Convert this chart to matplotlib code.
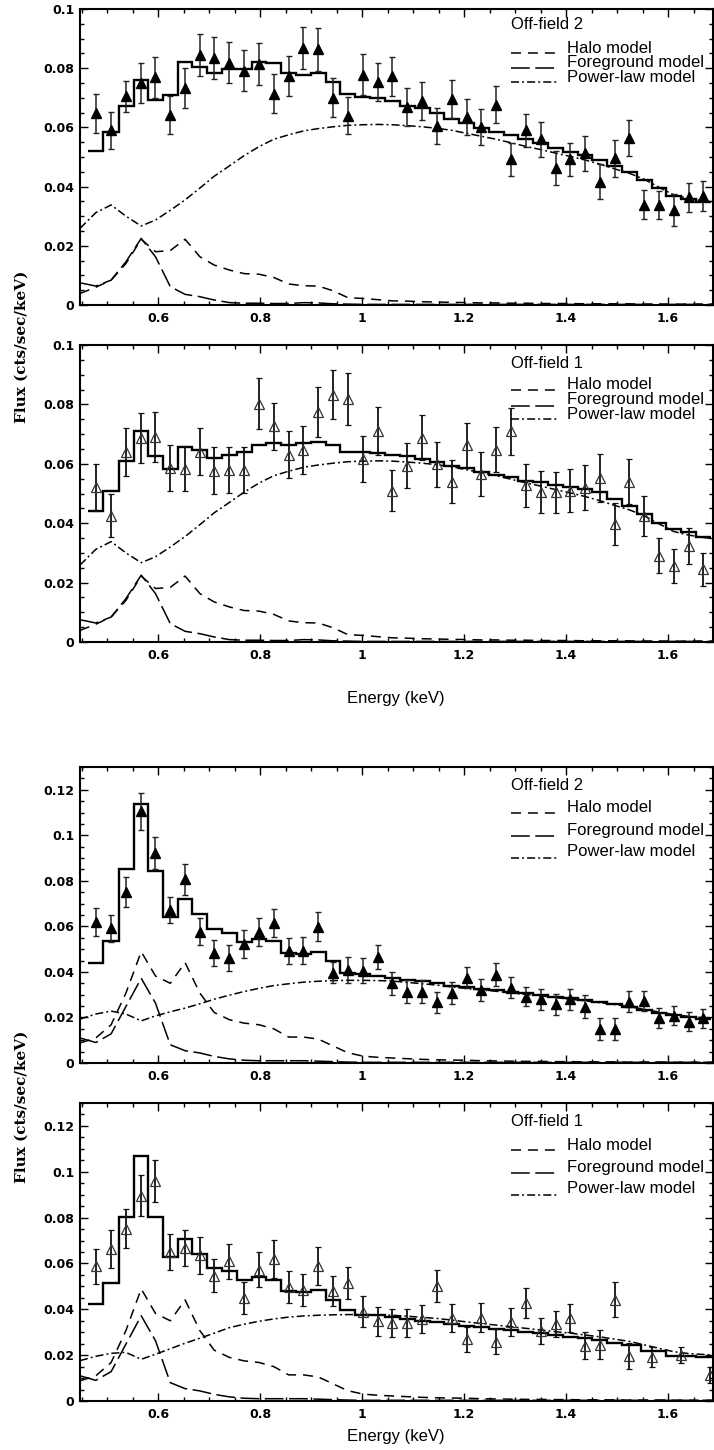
import matplotlib
matplotlib.use("Agg")
import matplotlib.pyplot as plt
import numpy as np

plt.rcParams['lines.scale_dashes'] = False
plt.rcParams['font.family'] = ['Liberation Sans', 'DejaVu Sans']

# ---------------- data ----------------
energy = [0.478, 0.508, 0.537, 0.567, 0.595, 0.624, 0.653, 0.682, 0.710, 0.740,
          0.769, 0.798, 0.827, 0.856, 0.885, 0.914, 0.943, 0.972, 1.002, 1.031,
          1.059, 1.088, 1.118, 1.147, 1.176, 1.205, 1.234, 1.263, 1.292, 1.321,
          1.350, 1.380, 1.408, 1.437, 1.466, 1.495, 1.524, 1.553, 1.582, 1.611,
          1.640, 1.669]
energy_p4 = [0.478, 0.508, 0.537, 0.567, 0.595, 0.624, 0.653, 0.682, 0.710, 0.740,
             0.769, 0.798, 0.827, 0.856, 0.885, 0.914, 0.943, 0.972, 1.002, 1.031,
             1.059, 1.088, 1.118, 1.147, 1.176, 1.205, 1.234, 1.263, 1.292, 1.321,
             1.350, 1.380, 1.408, 1.437, 1.466, 1.495, 1.524, 1.568, 1.625, 1.683]

# panel 1 (top, Off-field 2, soft band)
flux1 = [0.0647, 0.0590, 0.0705, 0.0750, 0.0770, 0.0642, 0.0733, 0.0843, 0.0833, 0.0818,
         0.0792, 0.0814, 0.0713, 0.0773, 0.0868, 0.0864, 0.0700, 0.0640, 0.0778, 0.0753,
         0.0773, 0.0669, 0.0689, 0.0604, 0.0696, 0.0634, 0.0602, 0.0677, 0.0492, 0.0590,
         0.0560, 0.0463, 0.0492, 0.0512, 0.0417, 0.0495, 0.0565, 0.0338, 0.0338, 0.0322,
         0.0364, 0.0368]
err1 = [0.0065, 0.0063, 0.0052, 0.0068, 0.0069, 0.0065, 0.0067, 0.0071, 0.0071, 0.0069,
        0.0069, 0.0070, 0.0066, 0.0068, 0.0071, 0.0072, 0.0066, 0.0063, 0.0070, 0.0065,
        0.0066, 0.0063, 0.0063, 0.0060, 0.0064, 0.0061, 0.0060, 0.0062, 0.0055, 0.0056,
        0.0059, 0.0057, 0.0056, 0.0060, 0.0059, 0.0061, 0.0061, 0.0049, 0.0048, 0.0054,
        0.0049, 0.0050]
total1 = [0.0521, 0.0586, 0.0672, 0.0760, 0.0693, 0.0710, 0.0820, 0.0803, 0.0783, 0.0796,
          0.0796, 0.0820, 0.0816, 0.0783, 0.0777, 0.0783, 0.0752, 0.0713, 0.0704, 0.0698,
          0.0689, 0.0672, 0.0664, 0.0647, 0.0630, 0.0614, 0.0597, 0.0586, 0.0574, 0.0560,
          0.0546, 0.0530, 0.0518, 0.0507, 0.0490, 0.0470, 0.0450, 0.0422, 0.0394, 0.0368,
          0.0357, 0.0349]

# panel 2 (Off-field 1)
flux2 = [0.0521, 0.0425, 0.0640, 0.0687, 0.0690, 0.0585, 0.0583, 0.0640, 0.0577, 0.0580,
         0.0580, 0.0803, 0.0727, 0.0631, 0.0647, 0.0775, 0.0833, 0.0817, 0.0617, 0.0710,
         0.0510, 0.0594, 0.0688, 0.0598, 0.0540, 0.0662, 0.0566, 0.0648, 0.0710, 0.0527,
         0.0506, 0.0504, 0.0510, 0.0520, 0.0553, 0.0397, 0.0540, 0.0425, 0.0290, 0.0256,
         0.0324, 0.0245]
err2 = [0.0079, 0.0072, 0.0082, 0.0085, 0.0083, 0.0078, 0.0076, 0.0079, 0.0078, 0.0077,
        0.0077, 0.0086, 0.0079, 0.0078, 0.0080, 0.0085, 0.0083, 0.0088, 0.0078, 0.0081,
        0.0070, 0.0076, 0.0076, 0.0075, 0.0072, 0.0075, 0.0073, 0.0077, 0.0079, 0.0072,
        0.0070, 0.0070, 0.0072, 0.0075, 0.0081, 0.0072, 0.0077, 0.0068, 0.0059, 0.0056,
        0.0060, 0.0056]
total2 = [0.0442, 0.0507, 0.0609, 0.0709, 0.0626, 0.0583, 0.0656, 0.0647, 0.0619, 0.0630,
          0.0641, 0.0662, 0.0670, 0.0664, 0.0671, 0.0675, 0.0662, 0.0641, 0.0639, 0.0636,
          0.0631, 0.0625, 0.0617, 0.0605, 0.0594, 0.0585, 0.0574, 0.0563, 0.0555, 0.0543,
          0.0538, 0.0529, 0.0521, 0.0515, 0.0504, 0.0481, 0.0459, 0.0431, 0.0402, 0.0382,
          0.0369, 0.0355]

# panel 3 (Off-field 2)
flux3 = [0.0618, 0.0591, 0.0749, 0.1105, 0.0923, 0.0672, 0.0807, 0.0577, 0.0482, 0.0460,
         0.0523, 0.0577, 0.0616, 0.0493, 0.0493, 0.0599, 0.0397, 0.0409, 0.0406, 0.0467,
         0.0350, 0.0314, 0.0314, 0.0266, 0.0307, 0.0375, 0.0321, 0.0387, 0.0331, 0.0292,
         0.0280, 0.0258, 0.0280, 0.0248, 0.0149, 0.0149, 0.0270, 0.0273, 0.0197, 0.0207,
         0.0182, 0.0197]
err3 = [0.0061, 0.0058, 0.0066, 0.0082, 0.0069, 0.0058, 0.0069, 0.0058, 0.0058, 0.0058,
        0.0062, 0.0061, 0.0062, 0.0057, 0.0060, 0.0062, 0.0047, 0.0056, 0.0055, 0.0053,
        0.0051, 0.0050, 0.0051, 0.0047, 0.0050, 0.0046, 0.0049, 0.0051, 0.0047, 0.0042,
        0.0047, 0.0045, 0.0047, 0.0050, 0.0049, 0.0049, 0.0047, 0.0044, 0.0043, 0.0042,
        0.0042, 0.0042]
total3 = [0.0438, 0.0537, 0.0850, 0.1136, 0.0844, 0.0642, 0.0720, 0.0653, 0.0587, 0.0569,
          0.0533, 0.0545, 0.0536, 0.0485, 0.0479, 0.0489, 0.0448, 0.0395, 0.0390, 0.0382,
          0.0372, 0.0365, 0.0358, 0.0350, 0.0340, 0.0333, 0.0326, 0.0321, 0.0314, 0.0307,
          0.0299, 0.0292, 0.0285, 0.0277, 0.0270, 0.0260, 0.0248, 0.0234, 0.0219, 0.0209,
          0.0201, 0.0194]

# panel 4 (Off-field 1)
flux4 = [0.0587, 0.0663, 0.0752, 0.0896, 0.0959, 0.0650, 0.0668, 0.0636, 0.0547, 0.0609,
         0.0449, 0.0573, 0.0620, 0.0496, 0.0483, 0.0590, 0.0481, 0.0515, 0.0390, 0.0347,
         0.0340, 0.0340, 0.0357, 0.0503, 0.0362, 0.0270, 0.0364, 0.0259, 0.0344, 0.0427,
         0.0306, 0.0337, 0.0362, 0.0241, 0.0245, 0.0442, 0.0197, 0.0191, 0.0201, 0.0114]
err4 = [0.0077, 0.0082, 0.0086, 0.0089, 0.0092, 0.0079, 0.0080, 0.0080, 0.0073, 0.0077,
        0.0068, 0.0076, 0.0082, 0.0069, 0.0069, 0.0082, 0.0066, 0.0068, 0.0066, 0.0062,
        0.0060, 0.0062, 0.0062, 0.0069, 0.0063, 0.0055, 0.0062, 0.0053, 0.0060, 0.0064,
        0.0058, 0.0057, 0.0060, 0.0058, 0.0063, 0.0075, 0.0058, 0.0044, 0.0036, 0.0034]
total4 = [0.0423, 0.0515, 0.0803, 0.1068, 0.0803, 0.0627, 0.0708, 0.0641, 0.0580, 0.0566,
          0.0529, 0.0541, 0.0529, 0.0481, 0.0474, 0.0483, 0.0439, 0.0398, 0.0376, 0.0373,
          0.0366, 0.0357, 0.0351, 0.0343, 0.0335, 0.0328, 0.0321, 0.0315, 0.0310, 0.0303,
          0.0296, 0.0286, 0.0281, 0.0274, 0.0267, 0.0255, 0.0245, 0.0216, 0.0198, 0.0191]

# model components
model_energy = [0.447, 0.478, 0.508, 0.537, 0.567, 0.595, 0.624, 0.653, 0.682, 0.710,
                0.740, 0.769, 0.798, 0.827, 0.856, 0.885, 0.914, 0.943, 0.972, 1.002,
                1.031, 1.059, 1.088, 1.118, 1.147, 1.176, 1.205, 1.234, 1.263, 1.292,
                1.321, 1.350, 1.380, 1.408, 1.437, 1.466, 1.495, 1.524, 1.553, 1.582,
                1.611, 1.640, 1.669, 1.688]
powerlaw12 = [0.0259, 0.0312, 0.0338, 0.0300, 0.0267, 0.0287, 0.0320, 0.0355, 0.0395, 0.0435,
              0.0470, 0.0505, 0.0535, 0.0560, 0.0575, 0.0588, 0.0596, 0.0602, 0.0607, 0.0609,
              0.0610, 0.0609, 0.0606, 0.0602, 0.0597, 0.0590, 0.0580, 0.0570, 0.0560, 0.0548,
              0.0536, 0.0525, 0.0513, 0.0502, 0.0490, 0.0476, 0.0460, 0.0445, 0.0425, 0.0398,
              0.0372, 0.0360, 0.0352, 0.0348]
halo12 = [0.0039, 0.0060, 0.0084, 0.0140, 0.0222, 0.0180, 0.0184, 0.0222, 0.0163, 0.0135,
          0.0118, 0.0106, 0.0104, 0.0093, 0.0071, 0.0065, 0.0064, 0.0048, 0.0025, 0.0022,
          0.0018, 0.0014, 0.0013, 0.0011, 0.0010, 0.0009, 0.0008, 0.0007, 0.0007, 0.0006,
          0.0006, 0.0005, 0.0005, 0.0005, 0.0004, 0.0004, 0.0004, 0.0004, 0.0003, 0.0003,
          0.0003, 0.0003, 0.0003, 0.0003]
fore12 = [0.0075, 0.0064, 0.0084, 0.0146, 0.0225, 0.0163, 0.0062, 0.0036, 0.0028, 0.0017,
          0.0008, 0.0006, 0.0006, 0.0005, 0.0005, 0.0008, 0.0007, 0.0004, 0.0003, 0.0002,
          0.0002, 0.0002, 0.0002, 0.0002, 0.0002, 0.0002, 0.0002, 0.0002, 0.0002, 0.0002,
          0.0002, 0.0002, 0.0002, 0.0002, 0.0002, 0.0002, 0.0002, 0.0002, 0.0002, 0.0002,
          0.0002, 0.0002, 0.0002, 0.0002]
powerlaw3 = [0.0193, 0.0215, 0.0228, 0.0215, 0.0185, 0.0207, 0.0225, 0.0241, 0.0260, 0.0280,
             0.0298, 0.0314, 0.0328, 0.0340, 0.0348, 0.0355, 0.0359, 0.0362, 0.0363, 0.0363,
             0.0362, 0.0360, 0.0354, 0.0348, 0.0342, 0.0334, 0.0327, 0.0321, 0.0315, 0.0308,
             0.0301, 0.0295, 0.0287, 0.0280, 0.0273, 0.0265, 0.0257, 0.0247, 0.0236, 0.0224,
             0.0213, 0.0205, 0.0199, 0.0196]
powerlaw4 = [0.0176, 0.0195, 0.0208, 0.0212, 0.0182, 0.0204, 0.0228, 0.0252, 0.0274, 0.0296,
             0.0320, 0.0335, 0.0348, 0.0358, 0.0366, 0.0371, 0.0374, 0.0376, 0.0377, 0.0377,
             0.0376, 0.0374, 0.0370, 0.0365, 0.0360, 0.0353, 0.0345, 0.0338, 0.0331, 0.0324,
             0.0317, 0.0310, 0.0302, 0.0296, 0.0288, 0.0280, 0.0270, 0.0260, 0.0245, 0.0230,
             0.0215, 0.0207, 0.0203, 0.0201]
halo34 = [0.0088, 0.0110, 0.0168, 0.0307, 0.0489, 0.0382, 0.0350, 0.0441, 0.0307, 0.0222,
          0.0190, 0.0175, 0.0168, 0.0150, 0.0114, 0.0114, 0.0105, 0.0075, 0.0045, 0.0030,
          0.0025, 0.0022, 0.0019, 0.0016, 0.0014, 0.0013, 0.0012, 0.0010, 0.0009, 0.0008,
          0.0007, 0.0007, 0.0006, 0.0006, 0.0005, 0.0005, 0.0005, 0.0004, 0.0004, 0.0004,
          0.0004, 0.0003, 0.0003, 0.0003]
fore34 = [0.0110, 0.0090, 0.0128, 0.0248, 0.0372, 0.0263, 0.0080, 0.0054, 0.0044, 0.0029,
          0.0018, 0.0012, 0.0010, 0.0010, 0.0010, 0.0010, 0.0008, 0.0006, 0.0004, 0.0003,
          0.0003, 0.0003, 0.0003, 0.0003, 0.0003, 0.0003, 0.0003, 0.0003, 0.0003, 0.0003,
          0.0003, 0.0003, 0.0003, 0.0003, 0.0003, 0.0003, 0.0003, 0.0003, 0.0003, 0.0003,
          0.0003, 0.0003, 0.0003, 0.0003]

titles = ["Off-field 2", "Off-field 1", "Off-field 2", "Off-field 1"]
legend_labels = ["Halo model", "Foreground model", "Power-law model"]
xtick_values = [0.6, 0.8, 1.0, 1.2, 1.4, 1.6]
xtick_labels = ["0.6", "0.8", "1", "1.2", "1.4", "1.6"]
ytick_values_a = [0, 0.02, 0.04, 0.06, 0.08, 0.1]
ytick_labels_a = ["0", "0.02", "0.04", "0.06", "0.08", "0.1"]
ytick_values_b = [0, 0.02, 0.04, 0.06, 0.08, 0.1, 0.12]
ytick_labels_b = ["0", "0.02", "0.04", "0.06", "0.08", "0.1", "0.12"]

# ---------------- styles ----------------
HALO_LS = (0, (7.2, 5.0))
FORE_LS = (0, (13.5, 4.0))
PL_LS = (0, (5.8, 2.2, 1.4, 2.2))

W, H = 714, 1450
fig = plt.figure(figsize=(W / 100, H / 100), dpi=100)

def px_axes(left, top, right, bottom):
    return fig.add_axes([left / W, 1 - bottom / H, (right - left) / W, (bottom - top) / H])

panels = [
    dict(rect=(80, 9, 713, 305), e=energy, f=flux1, err=err1, tot=total1,
         pl=powerlaw12, halo=halo12, fore=fore12, filled=True, ymax=0.1,
         yt=(ytick_values_a, ytick_labels_a),
         leg=(0.946, [0.868, 0.819, 0.767], [0.851, 0.800, 0.754])),
    dict(rect=(80, 345, 713, 642), e=energy, f=flux2, err=err2, tot=total2,
         pl=powerlaw12, halo=halo12, fore=fore12, filled=False, ymax=0.1,
         yt=(ytick_values_a, ytick_labels_a),
         leg=(0.938, [0.867, 0.817, 0.767], [0.848, 0.794, 0.752])),
    dict(rect=(80, 767, 713, 1063), e=energy, f=flux3, err=err3, tot=total3,
         pl=powerlaw3, halo=halo34, fore=fore34, filled=True, ymax=0.13,
         yt=(ytick_values_b, ytick_labels_b),
         leg=(0.939, [0.862, 0.787, 0.714], [0.846, 0.767, 0.693])),
    dict(rect=(80, 1103, 713, 1401), e=energy_p4, f=flux4, err=err4, tot=total4,
         pl=powerlaw4, halo=halo34, fore=fore34, filled=False, ymax=0.13,
         yt=(ytick_values_b, ytick_labels_b),
         leg=(0.938, [0.856, 0.783, 0.712], [0.842, 0.764, 0.690])),
]

for i, p in enumerate(panels):
    ax = px_axes(*p['rect'])
    e = np.array(p['e'])
    mids = (e[1:] + e[:-1]) / 2
    edges = np.concatenate([[e[0] - (mids[0] - e[0])], mids, [e[-1] + (e[-1] - mids[-1])]])

    # model components
    ax.plot(model_energy, p['halo'], color='black', lw=1.1, linestyle=HALO_LS)
    ax.plot(model_energy, p['fore'], color='black', lw=1.1, linestyle=FORE_LS)
    ax.plot(model_energy, p['pl'], color='black', lw=1.1, linestyle=PL_LS)
    # total model histogram
    ax.stairs(p['tot'], edges, baseline=None, color='black', lw=1.7)
    # data
    if p['filled']:
        ax.errorbar(e, p['f'], yerr=p['err'], fmt='^', color='black', ms=7.3,
                    mfc='black', mec='black', ecolor='#222222', elinewidth=1.1,
                    capsize=2.3, capthick=1.0)
    else:
        ax.errorbar(e, p['f'], yerr=p['err'], fmt='^', color='black', ms=7.5,
                    mfc='none', mec='#333333', mew=0.9, ecolor='#111111',
                    elinewidth=1.3, capsize=2.3, capthick=1.0)

    ax.set_xlim(0.447, 1.688)
    ax.set_ylim(0, p['ymax'])
    ax.set_xticks(xtick_values)
    ax.set_xticklabels(xtick_labels, fontweight='bold', fontsize=9, family='DejaVu Sans')
    ax.set_yticks(p['yt'][0])
    ax.set_yticklabels(p['yt'][1], fontweight='bold', fontsize=9, family='DejaVu Sans')
    ax.xaxis.set_minor_locator(matplotlib.ticker.MultipleLocator(0.05))
    ax.yaxis.set_minor_locator(matplotlib.ticker.MultipleLocator(0.005))
    ax.tick_params(which='both', direction='in', top=True, right=True, width=1.0)
    ax.tick_params(which='major', length=6, pad=5)
    ax.tick_params(axis='y', which='major', pad=4)
    ax.tick_params(which='minor', length=3)
    for s in ax.spines.values():
        s.set_linewidth(1.5)

    # legend drawn manually
    ty, texty, liney = p['leg']
    ax.text(0.681, ty, titles[i], transform=ax.transAxes, fontsize=12,
            va='center', ha='left')
    for lab, yy, ly, ls in zip(legend_labels, texty, liney, [HALO_LS, FORE_LS, PL_LS]):
        ax.plot([0.681, 0.754], [ly, ly], transform=ax.transAxes, color='black',
                lw=1.1, linestyle=ls)
        ax.text(0.769, yy, lab, transform=ax.transAxes, fontsize=12,
                va='center', ha='left')

# axis labels
fig.text(396 / W, 1 - 698 / H, "Energy (keV)", ha='center', va='center', fontsize=12)
fig.text(396 / W, 1 - 1437 / H, "Energy (keV)", ha='center', va='center', fontsize=12)
fig.text(22 / W, 1 - 347 / H, "Flux (cts/sec/keV)", rotation=90, ha='center',
         va='center', fontsize=11, fontweight='bold', family='DejaVu Serif')
fig.text(22 / W, 1 - 1107 / H, "Flux (cts/sec/keV)", rotation=90, ha='center',
         va='center', fontsize=11, fontweight='bold', family='DejaVu Serif')

fig.savefig("out.png", dpi=100)
